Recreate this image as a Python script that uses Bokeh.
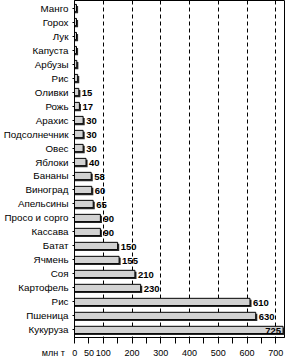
from bokeh.plotting import figure
from bokeh.models import Range1d, FixedTicker, ColumnDataSource
from bokeh.embed import file_html
from bokeh.resources import INLINE
from bokeh.core.properties import value

crops = ["Манго", "Горох", "Лук", "Капуста", "Арбузы", "Рис", "Оливки", "Рожь",
         "Арахис", "Подсолнечник", "Овес", "Яблоки", "Бананы", "Виноград",
         "Апельсины", "Просо и сорго", "Кассава", "Батат", "Ячмень", "Соя",
         "Картофель", "Рис", "Пшеница", "Кукуруза"]
production = [7, 7, 7, 7, 8, 11, 15, 17, 30, 30, 30, 40, 58, 60, 65, 90, 90,
              150, 155, 210, 230, 610, 630, 725]
shown_values = [None, None, None, None, None, None, 15, 17, 30, 30, 30, 40, 58,
                60, 65, 90, 90, 150, 155, 210, 230, 610, 630, 725]
x_ticks = [0, 50, 100, 150, 200, 250, 300, 350, 400, 450, 500, 550, 600, 650, 700]
x_tick_labels = ["0", "50", "100", "", "200", "", "300", "", "400", "", "500", "", "600", "", "700"]
grid_ticks = [100, 200, 300, 400, 500, 600, 700]
unit_label = "млн т"

FONT = "Liberation Sans"
NBSP = "\u00a0"
n = len(crops)
idx = list(range(n))

x_unit_px = 213 / 730.0
y_unit_px = 337 / (n + 0.08)
shadow_dx = 1.6 / x_unit_px
shadow_dy = 1.5 / y_unit_px

src = ColumnDataSource(dict(
    y=idx,
    v=production,
    ys=[i + shadow_dy for i in idx],
    vs=[v + shadow_dx for v in production],
))

out_idx = [i for i in idx if shown_values[i] is not None and shown_values[i] < 700]
in_idx = [i for i in idx if shown_values[i] is not None and shown_values[i] >= 700]
lab_out = ColumnDataSource(dict(x=[production[i] for i in out_idx], y=out_idx,
                                t=[str(shown_values[i]) for i in out_idx]))
lab_in = ColumnDataSource(dict(x=[production[i] for i in in_idx], y=in_idx,
                               t=[str(shown_values[i]) for i in in_idx]))

p = figure(width=288, height=364, output_backend="svg", toolbar_location=None,
           x_range=Range1d(0, 730), y_range=Range1d(n - 0.46, -0.54),
           min_border_left=71, min_border_right=4, min_border_top=0,
           min_border_bottom=27)

p.outline_line_color = "black"
p.outline_line_width = 1
p.background_fill_color = "white"
p.border_fill_color = "white"

# grid
p.ygrid.visible = False
p.xgrid.ticker = FixedTicker(ticks=grid_ticks)
p.xgrid.grid_line_color = "black"
p.xgrid.grid_line_dash = "4 3"
p.xgrid.grid_line_width = 1

# bars: shadow then face
p.hbar(y="ys", left=0, right="vs", height=0.52, source=src,
       fill_color="#2a2a2a", line_color=None)
p.hbar(y="y", left=0, right="v", height=0.52, source=src,
       fill_color="#d2d2d2", line_color="black", line_width=1)

# value labels
p.text(x="x", y="y", text="t", source=lab_out, x_offset=3, y_offset=1,
       text_align="left", text_baseline="middle", text_font=value(FONT),
       text_font_size="9.5px", text_font_style="bold", text_color="black")
p.text(x="x", y="y", text="t", source=lab_in, x_offset=-2, y_offset=1,
       text_align="right", text_baseline="middle", text_font=value(FONT),
       text_font_size="9.5px", text_font_style="bold", text_color="black")

# axes
overrides = {t: l for t, l in zip(x_ticks, x_tick_labels)}
# unit caption drawn left of the "0" label, padded so that "0" stays centred on its tick
overrides[0] = unit_label + NBSP * 3 + x_tick_labels[0] + NBSP * 12
p.xaxis.ticker = FixedTicker(ticks=x_ticks)
p.xaxis.major_label_overrides = overrides
p.xaxis.major_tick_out = 6
p.xaxis.major_tick_in = 0
p.xaxis.minor_tick_line_color = None
p.xaxis.major_label_standoff = 4
p.xaxis.major_label_text_font = FONT
p.xaxis.major_label_text_font_size = "9px"
p.xaxis.major_label_text_color = "black"
p.xaxis.axis_line_color = "black"
p.xaxis.major_tick_line_color = "black"

p.yaxis.ticker = FixedTicker(ticks=idx)
p.yaxis.major_label_overrides = {i: c for i, c in zip(idx, crops)}
p.yaxis.major_tick_out = 2
p.yaxis.major_tick_in = 0
p.yaxis.minor_tick_line_color = None
p.yaxis.major_label_standoff = 4
p.yaxis.major_label_text_font = FONT
p.yaxis.major_label_text_font_size = "9.8px"
p.yaxis.major_label_text_color = "black"
p.yaxis.axis_line_color = "black"
p.yaxis.major_tick_line_color = "black"

open("out.html", "w").write(file_html(p, INLINE))
